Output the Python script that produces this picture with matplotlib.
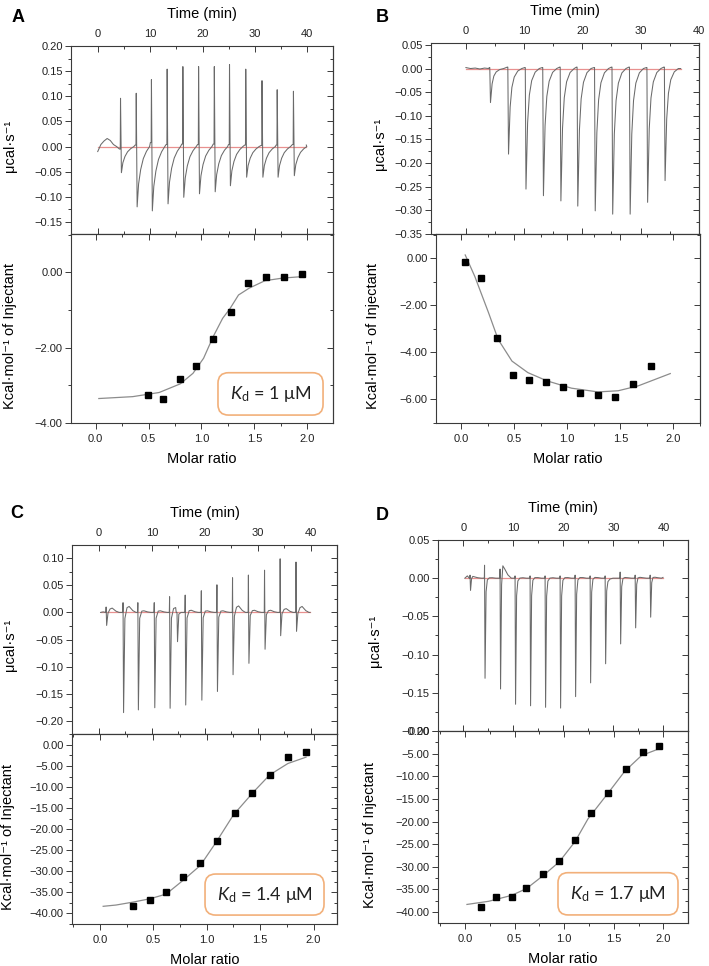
import matplotlib
matplotlib.use("Agg")

import numpy as np
import matplotlib.pyplot as plt
from matplotlib.ticker import MultipleLocator, FuncFormatter
from matplotlib.patches import FancyBboxPatch

plt.rcParams['font.family'] = ['Liberation Sans', 'DejaVu Sans']
plt.rcParams['mathtext.fontset'] = 'custom'
plt.rcParams['mathtext.rm'] = 'Lato'
plt.rcParams['mathtext.it'] = 'Lato:italic'

# -------------------------------------------------------
# Panel A : thermogram (injection time, spike top, spike min, level before spike)
# -------------------------------------------------------
A_INJ_T = [4.3, 7.3, 10.2, 13.2, 16.2, 19.2, 22.2, 25.1, 28.2, 31.3, 34.2, 37.3]
A_INJ_TOP = [0.096, 0.106, 0.133, 0.154, 0.159, 0.159, 0.159, 0.163, 0.154, 0.131, 0.113, 0.110]
A_INJ_MIN = [-0.052, -0.120, -0.128, -0.114, -0.101, -0.094, -0.090, -0.078, -0.061, -0.061, -0.061, -0.058]
A_INJ_PRE = [-0.005, 0.003, 0.008, 0.004, 0.005, 0.004, 0.005, 0.004, 0.003, 0.002, 0.003, 0.004]
A_START_T = [0.0, 0.6, 1.2, 1.8, 2.4, 3.0, 3.6]
A_START_Y = [-0.010, 0.004, 0.011, 0.016, 0.012, 0.004, 0.000]
A_END = (39.8, 0.003)
# peak profile: time offset, weight of top / min / pre level
A_SHAPE = ([-0.15, 0.0, 0.05, 0.22, 0.5, 0.9, 1.4, 2.0, 2.6],
           [0, 0, 1, 0, 0, 0, 0, 0, 0],
           [0, 0, 0, 1, 0.62, 0.38, 0.2, 0.08, 0],
           [1, 1, 0, 0, 0, 0, 0, 0, 0])
# isotherm
A_RATIO = [0.49, 0.64, 0.80, 0.95, 1.11, 1.28, 1.44, 1.61, 1.78, 1.95]
A_HEAT = [-3.25, -3.36, -2.83, -2.48, -1.78, -1.04, -0.27, -0.11, -0.13, -0.04]
A_FIT_X = [0.03, 0.35, 0.60, 0.80, 0.92, 1.02, 1.11, 1.20, 1.27, 1.35, 1.45, 1.60, 1.77, 1.96]
A_FIT_Y = [-3.35, -3.30, -3.19, -2.96, -2.68, -2.28, -1.71, -1.22, -0.96, -0.60, -0.42, -0.22, -0.15, -0.11]

# -------------------------------------------------------
# Panel B
# -------------------------------------------------------
B_INJ_T = [4.1, 7.2, 10.2, 13.2, 16.2, 19.1, 22.1, 25.1, 28.1, 31.1, 34.1]
B_INJ_MIN = [-0.072, -0.181, -0.255, -0.269, -0.280, -0.291, -0.301, -0.308, -0.308, -0.283, -0.237]
B_INJ_PRE = [0.002, 0.003, 0.002, 0.002, 0.003, 0.003, 0.002, 0.003, 0.003, 0.002, 0.003]
B_START_T = [0.0, 0.8, 1.6, 2.4, 3.2, 3.9]
B_START_Y = [0.002, 0.000, 0.001, -0.001, 0.001, 0.000]
B_END = (36.9, 0.0)
B_SHAPE = ([-0.1, 0.0, 0.12, 0.4, 0.7, 1.1, 1.7, 2.4],
           [0, 0, 0, 0, 0, 0, 0, 0],
           [0, 0, 1, 0.45, 0.22, 0.1, 0.03, 0],
           [1, 1, 0, 0, 0, 0, 0, 0])
B_RATIO = [0.04, 0.19, 0.34, 0.49, 0.64, 0.80, 0.96, 1.12, 1.29, 1.45, 1.62, 1.79]
B_HEAT = [-0.14, -0.82, -3.38, -4.97, -5.17, -5.25, -5.46, -5.73, -5.79, -5.89, -5.34, -4.59]
B_FIT_X = [0.04, 0.13, 0.26, 0.35, 0.48, 0.63, 0.81, 1.04, 1.29, 1.48, 1.67, 1.97]
B_FIT_Y = [0.14, -0.77, -2.32, -3.45, -4.37, -4.86, -5.21, -5.52, -5.68, -5.63, -5.42, -4.90]

# -------------------------------------------------------
# Panel C
# -------------------------------------------------------
C_INJ_T = [1.3, 4.5, 7.3, 10.4, 13.3, 14.7, 16.25, 19.3, 22.25, 25.2, 28.2, 31.25, 34.2, 37.2]
C_INJ_TOP = [0.010, 0.018, 0.018, 0.018, 0.029, 0.0, 0.032, 0.040, 0.051, 0.064, 0.069, 0.078, 0.099, 0.093]
C_INJ_MIN = [-0.024, -0.185, -0.180, -0.176, -0.177, -0.054, -0.171, -0.162, -0.146, -0.115, -0.094, -0.068, -0.043, -0.035]
C_INJ_HUMP = [0.008, 0.011, 0.003, 0.003, 0.009, 0.0, 0.004, 0.003, 0.003, 0.012, 0.004, 0.004, 0.007, 0.011]
C_START_T = [0.3, 0.8]
C_START_Y = [0.0, 0.001]
C_END = (39.9, 0.0)
C_SHAPE = ([-0.1, 0.0, 0.05, 0.15, 0.4, 0.8, 1.2, 1.9, 2.5],
           [0, 0, 1, 0, 0, 0, 0, 0, 0],
           [0, 0, 0, 1, 0.06, 0, 0, 0, 0],
           [0, 0, 0, 0, 0, 0.8, 1, 0.3, 0])
C_RATIO = [0.31, 0.47, 0.62, 0.78, 0.94, 1.10, 1.26, 1.42, 1.59, 1.76, 1.93]
C_HEAT = [-38.3, -36.8, -34.9, -31.3, -28.0, -22.9, -16.1, -11.5, -7.1, -2.95, -1.7]
C_FIT_X = [0.03, 0.15, 0.31, 0.47, 0.62, 0.78, 0.94, 1.09, 1.25, 1.44, 1.59, 1.76, 1.93]
C_FIT_Y = [-38.3, -38.0, -37.3, -36.5, -35.4, -32.1, -28.6, -23.0, -16.6, -11.1, -7.1, -4.4, -2.9]

# -------------------------------------------------------
# Panel D
# -------------------------------------------------------
D_INJ_T = [1.3, 4.2, 7.3, 10.3, 13.3, 16.3, 19.3, 22.3, 25.3, 28.3, 31.3, 34.3, 37.3]
D_INJ_TOP = [0.004, 0.017, 0.012, 0.003, 0.003, 0.003, 0.003, 0.004, 0.003, 0.003, 0.008, 0.004, 0.004]
D_INJ_MIN = [-0.016, -0.131, -0.145, -0.165, -0.167, -0.169, -0.170, -0.155, -0.137, -0.112, -0.086, -0.065, -0.051]
D_INJ_HUMP = [0.003, 0.003, 0.022, 0.003, 0.004, 0.003, 0.004, 0.004, 0.004, 0.0, 0.003, 0.003, 0.003]
D_START_T = [0.3, 0.8]
D_START_Y = [0.0, 0.003]
D_END = (39.9, 0.001)
D_SHAPE = ([-0.1, 0.0, 0.04, 0.14, 0.35, 0.6, 1.0, 1.6, 2.3],
           [0, 0, 1, 0, 0, 0, 0, 0, 0],
           [0, 0, 0, 1, 0.15, 0.04, 0.01, 0, 0],
           [0, 0, 0, 0, 0.6, 1, 0.6, 0.2, 0])
D_RATIO = [0.16, 0.31, 0.47, 0.62, 0.79, 0.95, 1.11, 1.27, 1.44, 1.62, 1.79, 1.96]
D_HEAT = [-38.9, -36.7, -36.7, -34.6, -31.5, -28.6, -24.1, -18.0, -13.6, -8.5, -4.7, -3.4]
D_FIT_X = [0.02, 0.24, 0.47, 0.62, 0.79, 0.95, 1.11, 1.24, 1.45, 1.61, 1.78, 1.96]
D_FIT_Y = [-38.3, -37.6, -36.3, -34.8, -31.9, -28.9, -24.4, -19.4, -13.5, -8.9, -5.4, -3.9]

KD_TEXT = ["1", None, "1.4", "1.7"]

W, H = 709, 966
TRACE = '#6a6a6a'
BASE = '#e8908f'
FIT = '#8c8c8c'
EDGE = '#3a3a3a'
TICK_FS = 8


def build_trace(start_t, start_y, inj_t, tops, mins, extra, shape, end):
    dt, wt, wm, we = shape
    if tops is None:
        tops = np.zeros(len(inj_t))
    ts, ys = list(start_t), list(start_y)
    for i, t0 in enumerate(inj_t):
        nxt = inj_t[i + 1] + dt[0] if i + 1 < len(inj_t) else np.inf
        for d, a, b, c in zip(dt, wt, wm, we):
            t = t0 + d
            if t >= nxt - 0.02:
                break
            if t <= ts[-1]:
                continue
            ts.append(t)
            ys.append(a * tops[i] + b * mins[i] + c * extra[i])
    ts.append(end[0])
    ys.append(end[1])
    return ts, ys


def fmt(spec):
    # format with a true minus sign, as in the original plots
    return FuncFormatter(lambda v, pos: (spec % v).replace('-', '\u2212'))


def px_axes(fig, l, t, r, b):
    return fig.add_axes([l / W, 1 - b / H, (r - l) / W, (b - t) / H])


def frame(ax, ymaj, ymin, yfmt):
    for s in ax.spines.values():
        s.set_linewidth(0.8)
        s.set_color(EDGE)
    ax.yaxis.set_major_locator(MultipleLocator(ymaj))
    ax.yaxis.set_minor_locator(MultipleLocator(ymin))
    ax.yaxis.set_major_formatter(fmt(yfmt))
    ax.tick_params(which='both', labelsize=TICK_FS, colors=EDGE, labelcolor='#222222', width=0.7)
    ax.tick_params(axis='y', which='both', direction='out', left=True, right=False, pad=2)
    ax.tick_params(which='major', length=4)
    ax.tick_params(which='minor', length=2.5)
    sec = ax.secondary_yaxis('right')
    sec.yaxis.set_major_locator(MultipleLocator(ymaj))
    sec.yaxis.set_minor_locator(MultipleLocator(ymin))
    sec.tick_params(which='both', direction='in', labelright=False, width=0.7, colors=EDGE)
    sec.tick_params(which='major', length=4)
    sec.tick_params(which='minor', length=2.5)
    sec.spines['right'].set_linewidth(0.8)
    sec.spines['right'].set_color(EDGE)


def thermogram(ax, ts, ys, xlim, ylim, ymaj, label_x):
    ax.plot([ts[0], ts[-1]], [0, 0], color=BASE, lw=0.9, zorder=1)
    ax.plot(ts, ys, color=TRACE, lw=0.75, zorder=2)
    ax.set_xlim(*xlim)
    ax.set_ylim(*ylim)
    frame(ax, ymaj, ymaj / 2, '%.2f')
    ax.set_xticks([0, 10, 20, 30, 40])
    ax.set_xticks([5, 15, 25, 35], minor=True)
    ax.tick_params(axis='x', which='both', direction='in', top=True, bottom=True,
                   labeltop=True, labelbottom=False, pad=5)
    ax.xaxis.set_label_position('top')
    ax.set_xlabel('Time (min)', fontsize=10.5, labelpad=8)
    ax.set_ylabel('μcal·s⁻¹', fontsize=10.5)
    ax.yaxis.set_label_coords(label_x, 0.47)


def isotherm(ax, rx, hy, fx, fy, xlim, ylim, ymaj, ymin, label_x):
    ax.plot(fx, fy, color=FIT, lw=0.9, zorder=2)
    ax.plot(rx, hy, 's', color='black', ms=5, zorder=3)
    ax.set_xlim(*xlim)
    ax.set_ylim(*ylim)
    frame(ax, ymaj, ymin, '%.2f')
    ax.xaxis.set_major_locator(MultipleLocator(0.5))
    ax.xaxis.set_minor_locator(MultipleLocator(0.25))
    ax.xaxis.set_major_formatter(fmt('%.1f'))
    ax.tick_params(axis='x', which='both', direction='out', bottom=True, top=False, pad=4)
    sx = ax.secondary_xaxis('top')
    sx.xaxis.set_major_locator(MultipleLocator(0.5))
    sx.xaxis.set_minor_locator(MultipleLocator(0.25))
    sx.tick_params(which='both', direction='in', labeltop=False, width=0.7, colors=EDGE)
    sx.tick_params(which='major', length=4)
    sx.tick_params(which='minor', length=2.5)
    sx.spines['top'].set_linewidth(0.8)
    sx.spines['top'].set_color(EDGE)
    ax.set_xlabel('Molar ratio', fontsize=10.5, labelpad=6)
    ax.set_ylabel('Kcal·mol⁻¹ of Injectant', fontsize=10.5)
    ax.yaxis.set_label_coords(label_x, 0.46)


def kd_box(ax, x0, y0, x1, y1, value):
    bw, bh = ax.bbox.width, ax.bbox.height
    box = FancyBboxPatch((x0, y0), x1 - x0, y1 - y0,
                         boxstyle='round,pad=0,rounding_size=0.04',
                         mutation_aspect=bw / bh, transform=ax.transAxes,
                         facecolor='white', edgecolor='#f2b07a', lw=1.2, zorder=4)
    ax.add_patch(box)
    ax.text((x0 + x1) / 2, (y0 + y1) / 2, r'$K_\mathrm{d}$ = ' + value + ' μM',
            transform=ax.transAxes, ha='center', va='center', fontsize=13,
            family=['Lato', 'DejaVu Sans'], color='#222222', zorder=5)


fig = plt.figure(figsize=(W / 100, H / 100), dpi=100)
fig.patch.set_facecolor('white')

# ---- A ----
ax = px_axes(fig, 71, 46, 333, 234)
ts, ys = build_trace(A_START_T, A_START_Y, A_INJ_T, A_INJ_TOP, A_INJ_MIN, A_INJ_PRE, A_SHAPE, A_END)
thermogram(ax, ts, ys, (-5.1, 44.9), (-0.174, 0.20), 0.05, -0.206)
ax = px_axes(fig, 71, 234, 333, 423)
isotherm(ax, A_RATIO, A_HEAT, A_FIT_X, A_FIT_Y, (-0.233, 2.243), (-4.0, 1.02), 2, 1, -0.206)
kd_box(ax, 0.561, 0.042, 0.962, 0.266, KD_TEXT[0])

# ---- B ----
ax = px_axes(fig, 431, 43, 699, 234)
ts, ys = build_trace(B_START_T, B_START_Y, B_INJ_T, None, B_INJ_MIN, B_INJ_PRE, B_SHAPE, B_END)
thermogram(ax, ts, ys, (-6.0, 40.05), (-0.35, 0.054), 0.05, -0.164)
ax = px_axes(fig, 436, 234, 700, 423)
isotherm(ax, B_RATIO, B_HEAT, B_FIT_X, B_FIT_Y, (-0.235, 2.25), (-7.0, 1.03), 2, 1, -0.212)

# ---- C ----
ax = px_axes(fig, 72, 545, 337, 734)
ts, ys = build_trace(C_START_T, C_START_Y, C_INJ_T, C_INJ_TOP, C_INJ_MIN, C_INJ_HUMP, C_SHAPE, C_END)
thermogram(ax, ts, ys, (-5.1, 45.0), (-0.2245, 0.1245), 0.05, -0.208)
ax = px_axes(fig, 72, 734, 337, 924)
isotherm(ax, C_RATIO, C_HEAT, C_FIT_X, C_FIT_Y, (-0.262, 2.22), (-42.5, 2.6), 5, 2.5, -0.215)
kd_box(ax, 0.502, 0.047, 0.951, 0.263, KD_TEXT[2])

# ---- D ----
ax = px_axes(fig, 438, 540, 688, 731)
ts, ys = build_trace(D_START_T, D_START_Y, D_INJ_T, D_INJ_TOP, D_INJ_MIN, D_INJ_HUMP, D_SHAPE, D_END)
thermogram(ax, ts, ys, (-5.06, 44.9), (-0.20, 0.05), 0.05, -0.224)
ax = px_axes(fig, 438, 731, 688, 923)
isotherm(ax, D_RATIO, D_HEAT, D_FIT_X, D_FIT_Y, (-0.272, 2.248), (-42.4, 0.0), 5, 2.5, -0.244)
kd_box(ax, 0.48, 0.042, 0.96, 0.262, KD_TEXT[3])

# panel letters
for letter, x, y in [('A', 18, 18), ('B', 382, 17), ('C', 17, 513), ('D', 382, 515)]:
    fig.text(x / W, 1 - y / H, letter, fontsize=13, fontweight='bold', ha='center', va='center')

fig.savefig('out.png', dpi=100)
